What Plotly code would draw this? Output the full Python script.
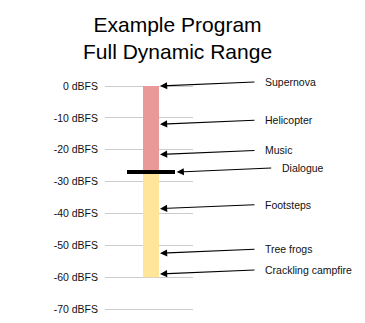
import plotly.graph_objects as go

# Program loudness levels (dBFS)
sources = ["Supernova", "Helicopter", "Music", "Dialogue",
           "Footsteps", "Tree frogs", "Crackling campfire"]
levels_db = [0, -12, -21.5, -27, -38.5, -52.5, -59]

# Dynamic range bands
peak_db = 0
dialogue_db = -27
floor_db = -60

tick_vals = [0, -10, -20, -30, -40, -50, -60, -70]
tick_text = [f"{v} dBFS" for v in tick_vals]

FONT = "Liberation Sans, Arial, sans-serif"
RED = "#ea9999"
YELLOW = "#ffe599"

W, H = 365, 323
M_L, M_R, M_T, M_B = 105, 172, 80, 8
PLOT_W = W - M_L - M_R
PLOT_H = H - M_T - M_B
PX_PER_DB = 223 / 70.0          # vertical scale of the meter
TOP_PAD = 6 / PX_PER_DB
BAR_W = 16

fig = go.Figure()

# Loud band (above dialogue) and quiet band (below dialogue)
fig.add_trace(go.Bar(x=[0], y=[dialogue_db - peak_db], base=[peak_db],
                     width=BAR_W, marker=dict(color=RED, line_width=0),
                     hoverinfo="skip"))
fig.add_trace(go.Bar(x=[0], y=[floor_db - dialogue_db], base=[dialogue_db],
                     width=BAR_W, marker=dict(color=YELLOW, line_width=0),
                     hoverinfo="skip"))

# Dialogue reference marker
fig.add_shape(type="line", xref="x", yref="y", x0=-24, x1=24,
              y0=dialogue_db, y1=dialogue_db,
              line=dict(color="black", width=4))

annotations = []
for name, lvl in zip(sources, levels_db):
    tip_x = 25.7 if name == "Dialogue" else BAR_W / 2 + 1
    annotations.append(dict(
        x=tip_x, y=lvl, xref="x", yref="y", text="",
        showarrow=True, ax=96, ay=-4, axref="pixel", ayref="pixel",
        arrowhead=2, arrowsize=1.3, arrowwidth=1.1, arrowcolor="black",
        standoff=0,
    ))
    annotations.append(dict(
        x=tip_x, y=lvl, xref="x", yref="y", text=name,
        showarrow=False, xanchor="left", yanchor="middle",
        xshift=103, yshift=4,
        font=dict(family=FONT, size=10.5, color="#111111"),
    ))

# Two-line heading centred over the chart
annotations.append(dict(
    text="Example Program<br>Full Dynamic Range",
    xref="paper", yref="paper",
    x=(177 - M_L) / PLOT_W, y=1 + (M_T - 11) / PLOT_H,
    xanchor="center", yanchor="top", showarrow=False,
    font=dict(family=FONT, size=21, color="black"),
))

fig.update_layout(
    width=W, height=H, autosize=False,
    margin=dict(l=M_L, r=M_R, t=M_T, b=M_B, pad=0),
    paper_bgcolor="white", plot_bgcolor="white",
    showlegend=False, barmode="overlay",
    xaxis=dict(range=[-46, 42], showgrid=False, zeroline=False,
               showticklabels=False, showline=False, fixedrange=True),
    yaxis=dict(range=[-70 - TOP_PAD, peak_db + TOP_PAD],
               tickvals=tick_vals, ticktext=tick_text,
               showgrid=True, gridcolor="#cccccc", gridwidth=1,
               zeroline=False, showline=False, ticks="",
               ticklabelstandoff=6,
               tickfont=dict(family=FONT, size=10.5, color="#111111")),
    annotations=annotations,
)

fig.write_html("out.html")
